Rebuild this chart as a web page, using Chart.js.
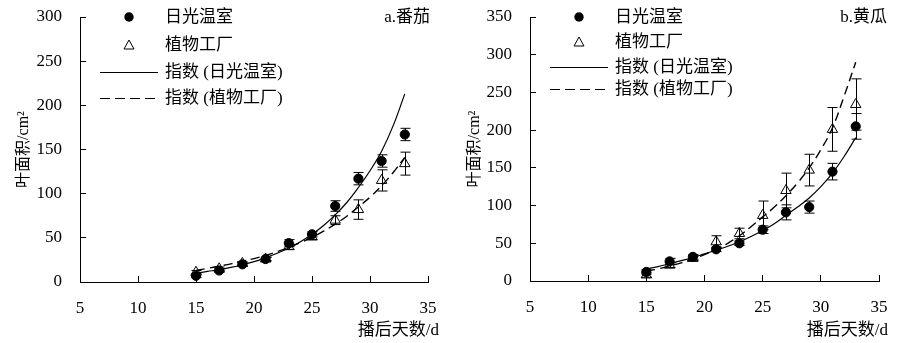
<!DOCTYPE html>
<html>
<head>
<meta charset="utf-8">
<script src="https://cdn.jsdelivr.net/npm/chart.js@4/dist/chart.umd.min.js"></script>
<style>
  body { margin: 0; background: #fff; }
  .panel { position: absolute; top: 0; width: 456px; height: 343px; }
</style>
</head>
<body>
<div class="panel" style="left:0"><canvas id="TomatoChart" width="456" height="343"></canvas></div>
<div class="panel" style="left:456px"><canvas id="CucumberChart" width="456" height="343"></canvas></div>
<script>
// sampling days (points) and days for the fitted curves
var days = [15, 17, 19, 21, 23, 25, 27, 29, 31, 33];
var fitDays = [15, 16, 17, 18, 19, 20, 21, 22, 23, 24, 25, 26, 27, 28, 29, 30, 31, 32, 33];
var xTicks = [5, 10, 15, 20, 25, 30, 35];

// a. 番茄
var tomatoGreenhouse = [7, 13, 20, 26, 44, 54, 86, 117, 137, 167];
var tomatoGreenhouseErr = [2, 2, 2, 2, 4, 3, 6, 7, 7, 7];
var tomatoFactory = [11, 15, 21, 26, 40, 51, 70, 82, 115, 134];
var tomatoFactoryErr = [2, 2, 2, 2, 3, 3, 5, 11, 12, 13];
var tomatoGreenhouseFit = [10, 12, 14, 16.5, 19.5, 23, 27.5, 32.5, 38.5, 45.5, 54, 64, 76, 90, 107, 126, 148, 177, 213];
var tomatoFactoryFit = [13, 15.5, 18, 20.5, 23.5, 26.5, 30, 34.5, 39, 44.5, 50.5, 57.5, 65.5, 74.5, 85, 96, 109, 124, 141];

// b. 黄瓜
var cucumberGreenhouse = [12, 26, 32, 42, 50, 68, 91, 98, 145, 205];
var cucumberGreenhouseErr = [3, 4, 3, 3, 3, 5, 10, 8, 11, 17];
var cucumberFactory = [8, 21, 30, 52, 63, 87, 120, 147, 201, 234];
var cucumberFactoryErr = [3, 3, 3, 8, 7, 19, 23, 21, 29, 34];
var cucumberGreenhouseFit = [16, 19, 23, 27, 31, 36, 41, 46, 52, 59, 67, 76, 87, 98, 110, 125, 143, 165, 190];
var cucumberFactoryFit = [13, 16, 20, 24, 29, 35, 42, 50, 60, 72, 85, 98, 113, 130, 150, 174, 203, 245, 290];

var seriesNames = ["日光温室", "植物工厂", "指数 (日光温室)", "指数 (植物工厂)"];

var FONT = "'Liberation Serif', 'Noto Sans CJK SC'";
Chart.defaults.font.family = FONT;
Chart.defaults.font.size = 17;
Chart.defaults.color = "#000";

function toXY(xs, ys) {
  return xs.map(function (x, i) { return { x: x, y: ys[i] }; });
}

// error bars, legend, panel label and x title
var extrasPlugin = {
  id: "extras",
  afterDatasetsDraw: function (chart, args, opts) {
    var ctx = chart.ctx;
    var xs = chart.scales.x, ys = chart.scales.y;
    ctx.save();
    ctx.strokeStyle = "#000";
    ctx.lineWidth = 1;
    opts.errors.forEach(function (e) {
      e.values.forEach(function (v, i) {
        var px = Math.round(xs.getPixelForValue(days[i])) + 0.5;
        var top = ys.getPixelForValue(v + e.err[i]);
        var bot = ys.getPixelForValue(v - e.err[i]);
        ctx.beginPath();
        ctx.moveTo(px, top); ctx.lineTo(px, bot);
        ctx.moveTo(px - 5, top); ctx.lineTo(px + 5, top);
        ctx.moveTo(px - 5, bot); ctx.lineTo(px + 5, bot);
        ctx.stroke();
      });
    });
    ctx.restore();
  },
  afterDraw: function (chart, args, opts) {
    var ctx = chart.ctx;
    var area = chart.chartArea;
    var L = area.left;
    var rows = opts.rows;
    ctx.save();
    ctx.fillStyle = "#000";
    ctx.strokeStyle = "#000";
    ctx.font = "17px " + FONT;
    ctx.textBaseline = "middle";
    ctx.textAlign = "left";

    // circle
    ctx.beginPath();
    ctx.arc(L + 49, rows[0], 4.7, 0, Math.PI * 2);
    ctx.fill();
    // triangle
    ctx.lineWidth = 1;
    ctx.beginPath();
    ctx.moveTo(L + 49, rows[1] - 5);
    ctx.lineTo(L + 54, rows[1] + 4);
    ctx.lineTo(L + 44, rows[1] + 4);
    ctx.closePath();
    ctx.stroke();
    // solid line
    ctx.beginPath();
    ctx.moveTo(L + 20, rows[2] + 0.5); ctx.lineTo(L + 78, rows[2] + 0.5);
    ctx.stroke();
    // dashed line
    ctx.setLineDash([10, 5]);
    ctx.beginPath();
    ctx.moveTo(L + 20, rows[3] + 0.5); ctx.lineTo(L + 78, rows[3] + 0.5);
    ctx.stroke();
    ctx.setLineDash([]);

    seriesNames.forEach(function (name, i) {
      ctx.fillText(name, L + 85, rows[i] + 1);
    });

    // panel label
    ctx.textAlign = "right";
    ctx.fillText(opts.label, area.right + opts.labelDx, 18);

    // x axis title
    ctx.fillText("播后天数/d", area.right + opts.titleDx, 331);
    ctx.restore();
  }
};

function makeChart(id, cfg) {
  var ctx = document.getElementById(id).getContext("2d");
  return new Chart(ctx, {
    type: "scatter",
    data: {
      datasets: [
        {
          label: seriesNames[0],
          data: toXY(days, cfg.greenhouse),
          pointStyle: "circle",
          pointRadius: 4.6,
          backgroundColor: "#000",
          borderColor: "#000",
          borderWidth: 1,
        },
        {
          label: seriesNames[1],
          data: toXY(days, cfg.factory),
          pointStyle: "triangle",
          pointRadius: 6,
          backgroundColor: "rgba(255,255,255,0)",
          borderColor: "#000",
          borderWidth: 1,
        },
        {
          label: seriesNames[2],
          data: toXY(fitDays, cfg.greenhouseFit),
          showLine: true,
          pointRadius: 0,
          borderColor: "#000",
          borderWidth: 1.2,
          tension: 0.4,
        },
        {
          label: seriesNames[3],
          data: toXY(fitDays, cfg.factoryFit),
          showLine: true,
          pointRadius: 0,
          borderColor: "#000",
          borderWidth: 1.4,
          borderDash: [9, 5],
          tension: 0.4,
        },
      ],
    },
    options: {
      responsive: false,
      animation: false,
      layout: { padding: { left: 0, top: 17, right: cfg.padRight, bottom: 0 } },
      plugins: {
        legend: { display: false },
        tooltip: { enabled: false },
        extras: {
          rows: cfg.rows,
          label: cfg.label,
          labelDx: cfg.labelDx,
          titleDx: cfg.titleDx,
          errors: [
            { values: cfg.greenhouse, err: cfg.greenhouseErr },
            { values: cfg.factory, err: cfg.factoryErr },
          ],
        },
      },
      scales: {
        x: {
          type: "linear",
          min: 5,
          max: 35,
          afterBuildTicks: function (axis) {
            axis.ticks = xTicks.map(function (v) { return { value: v }; });
          },
          afterFit: function (axis) {
            axis.height = cfg.bottomH;
            axis.paddingLeft = 0;
            axis.paddingRight = 0;
          },
          grid: { drawOnChartArea: false, tickLength: -6, color: "#000" },
          border: { color: "#000", width: 1 },
          ticks: { padding: 22, maxRotation: 0 },
        },
        y: {
          min: 0,
          max: cfg.yMax,
          afterBuildTicks: function (axis) {
            axis.ticks = cfg.yTicks.map(function (v) { return { value: v }; });
          },
          afterFit: function (axis) {
            axis.width = cfg.leftW;
            axis.paddingTop = 0;
            axis.paddingBottom = 0;
          },
          grid: { drawOnChartArea: false, tickLength: -6, color: "#000" },
          border: { color: "#000", width: 1 },
          ticks: { padding: 24 },
          title: {
            display: true,
            text: "叶面积/cm²",
            font: { size: 16 },
            padding: { top: cfg.yTitlePad, bottom: 0 },
          },
        },
      },
    },
    plugins: [extrasPlugin],
  });
}

// Chart a
makeChart("TomatoChart", {
  greenhouse: tomatoGreenhouse,
  greenhouseErr: tomatoGreenhouseErr,
  factory: tomatoFactory,
  factoryErr: tomatoFactoryErr,
  greenhouseFit: tomatoGreenhouseFit,
  factoryFit: tomatoFactoryFit,
  yMax: 300,
  yTicks: [0, 50, 100, 150, 200, 250, 300],
  label: "a.番茄",
  rows: [17, 45, 72, 98],
  leftW: 80,
  padRight: 28,
  bottomH: 61,
  yTitlePad: 14,
  labelDx: 2,
  titleDx: 11,
});

// Chart b
makeChart("CucumberChart", {
  greenhouse: cucumberGreenhouse,
  greenhouseErr: cucumberGreenhouseErr,
  factory: cucumberFactory,
  factoryErr: cucumberFactoryErr,
  greenhouseFit: cucumberGreenhouseFit,
  factoryFit: cucumberFactoryFit,
  yMax: 350,
  yTicks: [0, 50, 100, 150, 200, 250, 300, 350],
  label: "b.黄瓜",
  rows: [17, 42, 67, 89],
  leftW: 74,
  padRight: 33,
  bottomH: 62,
  yTitlePad: 9,
  labelDx: 8,
  titleDx: 9,
});
</script>
</body>
</html>
